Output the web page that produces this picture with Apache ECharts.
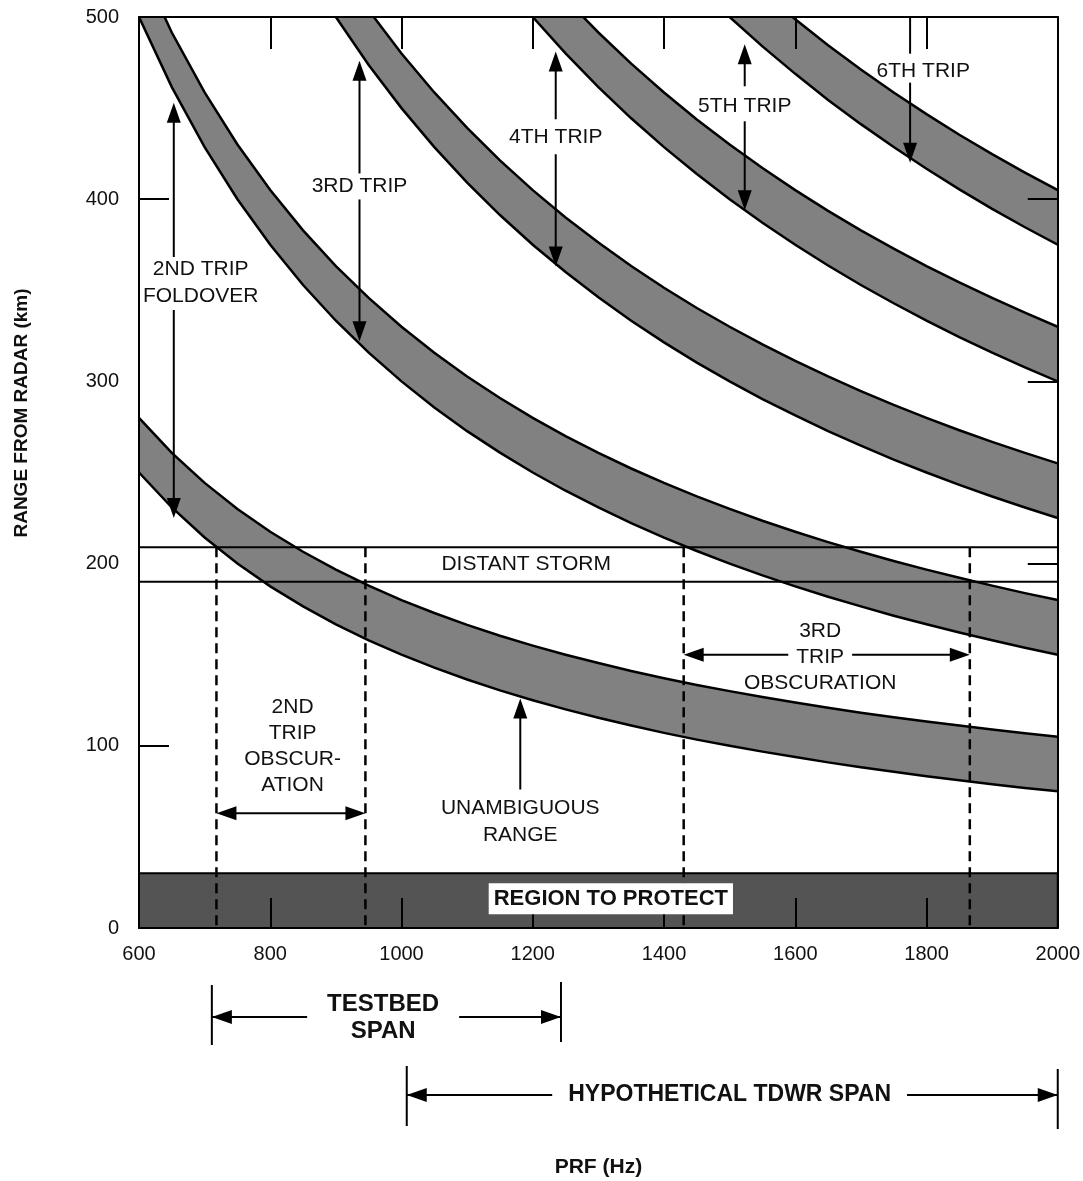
<!DOCTYPE html>
<html><head><meta charset="utf-8">
<script src="https://cdn.jsdelivr.net/npm/echarts@6/dist/echarts.min.js"></script>
<style>html,body{margin:0;padding:0;background:#fff}#c{width:1083px;height:1181px}</style>
</head><body><div id="c"></div>
<script>
// ---------- data ----------
const PRF = [600,650,700,750,800,850,900,950,1000,1050,1100,1150,1200,1250,1300,1350,1400,1450,1500,1550,1600,1650,1700,1750,1800,1850,1900,1950,2000];
// lower edge (km) of each trip band
const TRIP1_LOWER = [250,230.8,214.3,200,187.5,176.5,166.7,157.9,150,142.9,136.4,130.4,125,120,115.4,111.1,107.1,103.4,100,96.8,93.8,90.9,88.2,85.7,83.3,81.1,78.9,76.9,75];
const TRIP2_LOWER = [500,461.5,428.6,400,375,352.9,333.3,315.8,300,285.7,272.7,260.9,250,240,230.8,222.2,214.3,206.9,200,193.5,187.5,181.8,176.5,171.4,166.7,162.2,157.9,153.8,150];
const TRIP3_LOWER = [750,692.3,642.9,600,562.5,529.4,500,473.7,450,428.6,409.1,391.3,375,360,346.2,333.3,321.4,310.3,300,290.3,281.3,272.7,264.7,257.1,250,243.2,236.8,230.8,225];
const TRIP4_LOWER = [1000,923.1,857.1,800,750,705.9,666.7,631.6,600,571.4,545.5,521.7,500,480,461.5,444.4,428.6,413.8,400,387.1,375,363.6,352.9,342.9,333.3,324.3,315.8,307.7,300];
const TRIP5_LOWER = [1250,1153.8,1071.4,1000,937.5,882.4,833.3,789.5,750,714.3,681.8,652.2,625,600,576.9,555.6,535.7,517.2,500,483.9,468.8,454.5,441.2,428.6,416.7,405.4,394.7,384.6,375];
const BAND_LOWERS = [TRIP1_LOWER, TRIP2_LOWER, TRIP3_LOWER, TRIP4_LOWER, TRIP5_LOWER];
const BAND_DEPTH_KM = 30;
const REGION_KM = [0, 30];
const STORM_KM = [190, 209];
const OBSCURATION_PRF = [718, 945, 1430, 1866];

const X_TICKS = [800, 1000, 1200, 1400, 1600, 1800];
const Y_TICKS_LEFT = [100, 400];
const Y_TICKS_RIGHT = [200, 300, 400];

const TRIP_TEXT = ['2ND TRIP\nFOLDOVER', '3RD TRIP', '4TH TRIP', '5TH TRIP', '6TH TRIP'];
const TRIP_PRF = [653, 936, 1235, 1523, 1775];
const TRIP_UP_KM = [453, 476, 481, 485, null];
const TRIP_DOWN_KM = [225, 322, 363, 394, 420];
const TRIP_TEXT_PRF = [694, 936, 1235, 1523, 1795];
const TRIP_TEXT_KM = [354, 407, 434, 451, 470];

const OBSC_ARROW_KM = [63, 150];
const OBSC_TEXT_PRF = [834, 1638];
const OBSC_TEXT_KM = [100, 148.7];

const UNAMB_PRF = 1181;
const UNAMB_KM = [126, 76];
const UNAMB_TEXT_KM = 58.5;

const STORM_TEXT_POS = [1190, 199.5];
const REGION_TEXT_POS = [1319, 16];

const TESTBED_PRF = [711, 1243];
const TESTBED_TEXT_PRF = 972;
const TDWR_PRF = [1008, 2000];
const TDWR_TEXT_PRF = 1500;

// ---------- styles ----------
const FONT = '"Liberation Sans", Arial, Helvetica, sans-serif';
const BAND_FILL = '#818181';
const REGION_FILL = '#545454';
const INK = '#111';
const TRIP_GAP_UP = [26, 13, 18, 20, 18];   // px gap in arrow line above text centre
const TRIP_GAP_DOWN = [27, 13, 17, 15, 11]; // px gap below text centre

const chart = echarts.init(document.getElementById('c'), null, {renderer: 'canvas'});

const axisCommon = {
  type: 'value', z: 10,
  axisLine: {show: true, onZero: false, lineStyle: {color: '#000', width: 2}},
  splitLine: {show: false},
};

const series = [];
series.push({
  type: 'custom', coordinateSystem: 'cartesian2d', clip: true, silent: true, z: 2,
  data: [[PRF[0], REGION_KM[0]]],
  renderItem: (params, api) => {
    const a = api.coord([PRF[0], REGION_KM[1]]);
    const b = api.coord([PRF[PRF.length - 1], REGION_KM[0]]);
    return {type: 'rect', shape: {x: a[0], y: a[1], width: b[0] - a[0], height: b[1] - a[1]},
      style: {fill: REGION_FILL, stroke: '#000', lineWidth: 2}};
  }
});
series.push({
  type: 'custom', coordinateSystem: 'cartesian2d', clip: true, silent: true, z: 2,
  data: BAND_LOWERS.map((_, i) => [PRF[0], i]),
  renderItem: (params, api) => {
    const lower = BAND_LOWERS[params.dataIndex];
    const lowPts = PRF.map((p, j) => api.coord([p, lower[j]]));
    const upPts = PRF.map((p, j) => api.coord([p, lower[j] + BAND_DEPTH_KM]));
    return {type: 'group', children: [
      {type: 'polygon', shape: {points: upPts.concat(lowPts.slice().reverse())}, style: {fill: BAND_FILL, stroke: 'none'}},
      {type: 'polyline', shape: {points: upPts}, style: {stroke: '#000', lineWidth: 2.5, fill: 'none'}},
      {type: 'polyline', shape: {points: lowPts}, style: {stroke: '#000', lineWidth: 2.5, fill: 'none'}}
    ]};
  }
});
STORM_KM.forEach(km => series.push({
  type: 'line', z: 3, silent: true, symbol: 'none', animation: false,
  data: [[PRF[0], km], [PRF[PRF.length - 1], km]],
  lineStyle: {color: '#000', width: 2}
}));
OBSCURATION_PRF.forEach(p => series.push({
  type: 'line', z: 4, silent: true, symbol: 'none', animation: false,
  data: [[p, STORM_KM[1]], [p, REGION_KM[0]]],
  lineStyle: {color: '#000', width: 2.5, type: [10, 6]}
}));

chart.setOption({
  animation: false,
  backgroundColor: '#fff',
  grid: {left: 139, right: 23, top: 17, bottom: 253, show: false},
  xAxis: [
    Object.assign({}, axisCommon, {position: 'bottom', min: 600, max: 2000, interval: 200,
      axisTick: {show: true, inside: true, length: 30, customValues: X_TICKS, lineStyle: {color: '#000', width: 2}},
      axisLabel: {show: true, margin: 16, color: INK, fontSize: 20, fontFamily: FONT, formatter: v => String(v)}}),
    Object.assign({}, axisCommon, {position: 'top', min: 600, max: 2000, interval: 200,
      axisTick: {show: true, inside: true, length: 32, customValues: X_TICKS, lineStyle: {color: '#000', width: 2}},
      axisLabel: {show: false}})
  ],
  yAxis: [
    Object.assign({}, axisCommon, {position: 'left', min: 0, max: 500, interval: 100,
      axisTick: {show: true, inside: true, length: 30, customValues: Y_TICKS_LEFT, lineStyle: {color: '#000', width: 2}},
      axisLabel: {show: true, margin: 20, color: INK, fontSize: 20, fontFamily: FONT, formatter: v => String(v)}}),
    Object.assign({}, axisCommon, {position: 'right', min: 0, max: 500, interval: 100,
      axisTick: {show: true, inside: true, length: 30, customValues: Y_TICKS_RIGHT, lineStyle: {color: '#000', width: 2}},
      axisLabel: {show: false}})
  ],
  series: series
});

// ---------- annotations (positioned through the chart's scales) ----------
const P = (x, y) => chart.convertToPixel({xAxisIndex: 0, yAxisIndex: 0}, [x, y]);
const PX = x => chart.convertToPixel({xAxisIndex: 0}, x);
const HEAD_L = 20, HEAD_W = 7;
const G = [];
function head(tx, ty, ux, uy) {
  const bx = tx - ux * HEAD_L, by = ty - uy * HEAD_L, nx = -uy, ny = ux;
  return {type: 'polygon', z: 30, silent: true,
    shape: {points: [[tx, ty], [bx + nx * HEAD_W, by + ny * HEAD_W], [bx - nx * HEAD_W, by - ny * HEAD_W]]},
    style: {fill: '#000'}};
}
function arrow(x1, y1, x2, y2, headEnd, headStart) {
  const dx = x2 - x1, dy = y2 - y1, len = Math.hypot(dx, dy), ux = dx / len, uy = dy / len;
  const sx = headStart ? x1 + ux * HEAD_L * 0.8 : x1, sy = headStart ? y1 + uy * HEAD_L * 0.8 : y1;
  const ex = headEnd ? x2 - ux * HEAD_L * 0.8 : x2, ey = headEnd ? y2 - uy * HEAD_L * 0.8 : y2;
  G.push({type: 'line', z: 29, silent: true, shape: {x1: sx, y1: sy, x2: ex, y2: ey}, style: {stroke: '#000', lineWidth: 2}});
  if (headEnd) G.push(head(x2, y2, ux, uy));
  if (headStart) G.push(head(x1, y1, -ux, -uy));
}
function vline(x, y1, y2, w) {
  G.push({type: 'line', z: 29, silent: true, shape: {x1: x, y1: y1, x2: x, y2: y2}, style: {stroke: '#000', lineWidth: w || 2}});
}
function text(x, y, str, opt) {
  opt = opt || {};
  const st = {text: str, x: 0, y: 0, fill: INK,
    font: (opt.weight || 'normal') + ' ' + (opt.size || 21) + 'px ' + FONT,
    align: 'center', verticalAlign: 'middle', textAlign: 'center', textVerticalAlign: 'middle',
    lineHeight: opt.lh || 27};
  if (opt.bg) { st.backgroundColor = '#fff'; st.padding = opt.pad || [2, 3]; }
  G.push({type: 'text', z: 40, silent: true, x: x, y: y, rotation: opt.rot || 0, style: st});
}

// trip arrows (line broken around the label)
TRIP_TEXT.forEach((t, i) => {
  const base = P(TRIP_PRF[i], TRIP_TEXT_KM[i]);
  const tp = P(TRIP_TEXT_PRF[i], TRIP_TEXT_KM[i]);
  const x = base[0];
  if (TRIP_UP_KM[i] != null) {
    const up = P(TRIP_PRF[i], TRIP_UP_KM[i]);
    arrow(x, base[1] - TRIP_GAP_UP[i], up[0], up[1], true, false);
  } else {
    const top = P(TRIP_PRF[i], 500);
    vline(x, base[1] - TRIP_GAP_UP[i], top[1], 2);
  }
  const dn = P(TRIP_PRF[i], TRIP_DOWN_KM[i]);
  arrow(x, base[1] + TRIP_GAP_DOWN[i], dn[0], dn[1], true, false);
  text(tp[0], tp[1], t);
});

// 2nd trip obscuration
{
  const a = P(OBSCURATION_PRF[0], OBSC_ARROW_KM[0]), b = P(OBSCURATION_PRF[1], OBSC_ARROW_KM[0]);
  arrow(a[0], a[1], b[0], b[1], true, true);
  const t = P(OBSC_TEXT_PRF[0], OBSC_TEXT_KM[0]);
  text(t[0], t[1], '2ND\nTRIP\nOBSCUR-\nATION', {lh: 26});
}
// 3rd trip obscuration
{
  const a = P(OBSCURATION_PRF[2], OBSC_ARROW_KM[1]), b = P(OBSCURATION_PRF[3], OBSC_ARROW_KM[1]);
  arrow(a[0], a[1], b[0], b[1], true, true);
  const t = P(OBSC_TEXT_PRF[1], OBSC_TEXT_KM[1]);
  text(t[0], t[1] - 26, '3RD');
  text(t[0], t[1], 'TRIP', {bg: true, pad: [2, 8]});
  text(t[0], t[1] + 26, 'OBSCURATION');
}
// unambiguous range
{
  const a = P(UNAMB_PRF, UNAMB_KM[1]), b = P(UNAMB_PRF, UNAMB_KM[0]);
  arrow(a[0], a[1], b[0], b[1], true, false);
  const t = P(UNAMB_PRF, UNAMB_TEXT_KM);
  text(t[0], t[1], 'UNAMBIGUOUS\nRANGE');
}
// distant storm
{
  const t = P(STORM_TEXT_POS[0], STORM_TEXT_POS[1]);
  text(t[0], t[1], 'DISTANT STORM');
}
// region to protect
{
  const t = P(REGION_TEXT_POS[0], REGION_TEXT_POS[1]);
  text(t[0], t[1], 'REGION TO PROTECT', {weight: 'bold', size: 22, bg: true, pad: [2, 5]});
}
// spans below the axis
{
  const l = PX(TESTBED_PRF[0]), r = PX(TESTBED_PRF[1]), y = 1017;
  vline(l, 985, 1045, 2); vline(r, 982, 1042, 2);
  arrow(r, y, l, y, true, false);
  arrow(l, y, r, y, true, false);
  text(PX(TESTBED_TEXT_PRF), 1018, 'TESTBED\nSPAN', {weight: 'bold', size: 24, lh: 27, bg: true, pad: [0, 20]});
}
{
  const l = PX(TDWR_PRF[0]), r = PX(TDWR_PRF[1]), y = 1095;
  vline(l, 1066, 1126, 2); vline(r, 1069, 1129, 2);
  arrow(r, y, l, y, true, false);
  arrow(l, y, r, y, true, false);
  text(PX(TDWR_TEXT_PRF), y, 'HYPOTHETICAL TDWR SPAN', {weight: 'bold', size: 23, bg: true, pad: [2, 16]});
}
// axis titles
text(PX(1300), 1167, 'PRF (Hz)', {weight: 'bold', size: 21});
text(22, 413, 'RANGE FROM RADAR (km)', {weight: 'bold', size: 19, rot: Math.PI / 2});

chart.setOption({graphic: {elements: G}});
</script>
</body></html>
